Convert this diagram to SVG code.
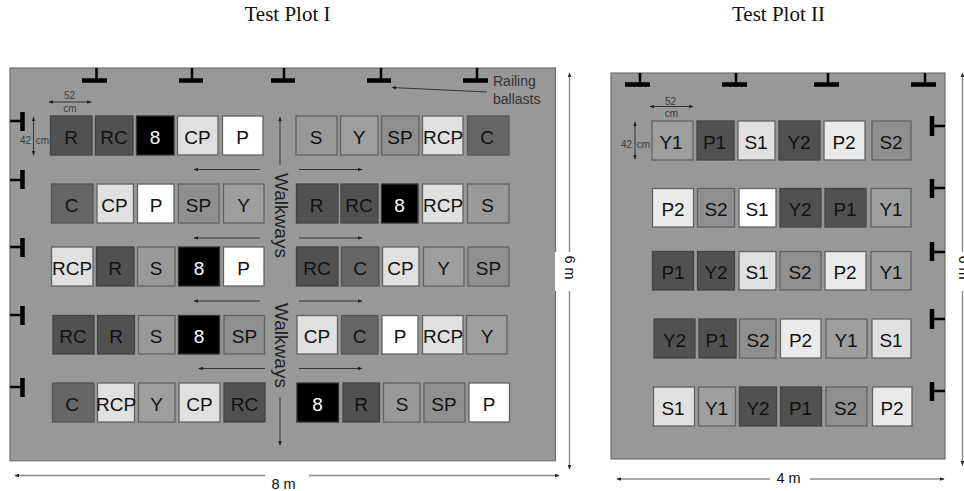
<svg xmlns="http://www.w3.org/2000/svg" width="964" height="491" viewBox="0 0 964 491">
<style>
text{font-family:"Liberation Sans",Arial,sans-serif;fill:#111;text-anchor:middle}
.title{font-family:"Liberation Serif","Times New Roman",serif;font-size:21px;fill:#111}
.panel{fill:#989898;stroke:#707070;stroke-width:1.2}
.c rect{stroke:#626262;stroke-width:1.3}
.c text{font-size:19px}
.k rect{fill:#000;stroke:#333}.k text{fill:#fff}
.d rect{fill:#515151;stroke:#444}
.m rect{fill:#666;stroke:#555}
.s rect{fill:#999}
.y rect{fill:#9e9e9e}
.p rect{fill:#8f8f8f}
.l rect{fill:#e0e0e0}
.e rect{fill:#eaeaea}
.w rect{fill:#fff}
.b{stroke:#000;fill:none}
.bar{stroke-width:4.5}
.stem{stroke-width:2.5}
.a{stroke:#333;stroke-width:1;fill:none;marker-end:url(#h)}
.g{stroke:#8c8c8c;stroke-width:1.4;fill:none}
.ga{marker-end:url(#h2)}
.dim{font-size:10px;fill:#3c3c3c}
.walk{font-size:18.5px;fill:#222}
.lab{font-size:14px;fill:#333;text-anchor:start}
.m8{font-size:14.5px;fill:#111}
</style>
<defs>
<marker id="h" viewBox="0 0 8 6" refX="7" refY="3" markerWidth="5" markerHeight="4" markerUnits="userSpaceOnUse" orient="auto-start-reverse"><path d="M0 0L8 3L0 6z" fill="#222"/></marker>
<marker id="h2" viewBox="0 0 8 6" refX="7" refY="3" markerWidth="5" markerHeight="4" markerUnits="userSpaceOnUse" orient="auto-start-reverse"><path d="M0 0L8 3L0 6z" fill="#222"/></marker>
</defs>
<rect width="964" height="491" fill="#fff"/>
<text class="title" x="287.500" y="21">Test Plot I</text>
<text class="title" x="778.500" y="21">Test Plot II</text>

<g id="plot1"><rect class="panel" x="10" y="68" width="545.500" height="392.700"/><rect x="555" y="252" width="3" height="39" fill="#fff"/></g>
<g id="plot2"><rect class="panel" x="611" y="73" width="334" height="386"/></g>

<g id="ballasts1">
<path class="b stem" d="M96.500 68V80M192 68V80M284 68V80M381 68V80M477 68V80"/>
<path class="b bar" d="M82 80.500H107M179 80.500H203M271 80.500H295M367 80.500H391M463 80.500H488"/>
<path class="b stem" d="M10 121H22M10 180H22M10 247H22M10 315H22M10 387H22"/>
<path class="b bar" d="M22.500 112V131M22.500 170V189M22.500 238V257M22.500 306V325M22.500 378V397"/>
</g>
<g id="ballasts2">
<path class="b stem" d="M640 73V84M736 73V84M828 73V84M925 73V84"/>
<path class="b bar" d="M625 84.500H650M722 84.500H747M814 84.500H839M911 84.500H936"/>
<path class="b stem" d="M932 126H945M932 188H945M932 252H945M932 319H945M932 391H945"/>
<path class="b bar" d="M932 116V136M932 179V198M932 242V261M932 309V329M932 382V401"/>
</g>

<g id="plot1-cells">
<g id="a1" class="c d"><rect x="50.500" y="116" width="41.500" height="39"/><text x="71" y="144">R</text></g>
<g id="a2" class="c d"><rect x="95.500" y="116" width="37.500" height="39"/><text x="114" y="144">RC</text></g>
<g id="a3" class="c k"><rect x="136.500" y="116" width="37.500" height="39"/><text x="155" y="144">8</text></g>
<g id="a4" class="c l"><rect x="177.500" y="116" width="40.500" height="39"/><text x="197.500" y="144">CP</text></g>
<g id="a5" class="c w"><rect x="222.500" y="116" width="40.500" height="39"/><text x="242.500" y="144">P</text></g>
<g id="a6" class="c s"><rect x="296" y="116" width="41" height="39"/><text x="316" y="144">S</text></g>
<g id="a7" class="c y"><rect x="340.500" y="116" width="37.500" height="39"/><text x="359" y="144">Y</text></g>
<g id="a8" class="c p"><rect x="381.500" y="116" width="37.500" height="39"/><text x="400" y="144">SP</text></g>
<g id="a9" class="c l"><rect x="422.500" y="116" width="40.500" height="39"/><text x="443" y="144">RCP</text></g>
<g id="a10" class="c m"><rect x="467.500" y="116" width="41.500" height="39"/><text x="487" y="144">C</text></g>

<g id="b1" class="c m"><rect x="51.500" y="184" width="41.500" height="39"/><text x="71.500" y="212">C</text></g>
<g id="b2" class="c l"><rect x="97" y="184" width="36.500" height="39"/><text x="114.500" y="212">CP</text></g>
<g id="b3" class="c w"><rect x="137.500" y="184" width="36.500" height="39"/><text x="156" y="212">P</text></g>
<g id="b4" class="c p"><rect x="178.500" y="184" width="40.500" height="39"/><text x="198.500" y="212">SP</text></g>
<g id="b5" class="c y"><rect x="223.500" y="184" width="40.500" height="39"/><text x="243.500" y="212">Y</text></g>
<g id="b6" class="c d"><rect x="296.500" y="184" width="41.500" height="39"/><text x="316.500" y="212">R</text></g>
<g id="b7" class="c d"><rect x="341" y="184" width="37" height="39"/><text x="359" y="212">RC</text></g>
<g id="b8" class="c k"><rect x="381.500" y="184" width="36.500" height="39"/><text x="399.500" y="212">8</text></g>
<g id="b9" class="c l"><rect x="422.500" y="184" width="40.500" height="39"/><text x="443" y="212">RCP</text></g>
<g id="b10" class="c s"><rect x="467.500" y="184" width="41.500" height="39"/><text x="487.500" y="212">S</text></g>

<g id="c1" class="c l"><rect x="51.500" y="247" width="41.500" height="39"/><text x="72" y="275">RCP</text></g>
<g id="c2" class="c d"><rect x="96.500" y="247" width="37.500" height="39"/><text x="115" y="275">R</text></g>
<g id="c3" class="c s"><rect x="137.500" y="247" width="37.500" height="39"/><text x="156" y="275">S</text></g>
<g id="c4" class="c k"><rect x="178.500" y="247" width="41" height="39"/><text x="199" y="275">8</text></g>
<g id="c5" class="c w"><rect x="223.500" y="247" width="40.500" height="39"/><text x="243.500" y="275">P</text></g>
<g id="c6" class="c d"><rect x="296.500" y="247" width="41.500" height="39"/><text x="317" y="275">RC</text></g>
<g id="c7" class="c m"><rect x="341.500" y="247" width="37.500" height="39"/><text x="360" y="275">C</text></g>
<g id="c8" class="c l"><rect x="382.500" y="247" width="36.500" height="39"/><text x="400.500" y="275">CP</text></g>
<g id="c9" class="c y"><rect x="423.500" y="247" width="40.500" height="39"/><text x="443.500" y="275">Y</text></g>
<g id="c10" class="c p"><rect x="468" y="247" width="41" height="39"/><text x="488.500" y="275">SP</text></g>

<g id="d1" class="c d"><rect x="53" y="315.500" width="41" height="38.500"/><text x="73" y="343">RC</text></g>
<g id="d2" class="c d"><rect x="97.500" y="315.500" width="37" height="38.500"/><text x="116" y="343">R</text></g>
<g id="d3" class="c s"><rect x="138.500" y="315.500" width="36.500" height="38.500"/><text x="156" y="343">S</text></g>
<g id="d4" class="c k"><rect x="178.500" y="315.500" width="41" height="38.500"/><text x="199" y="343">8</text></g>
<g id="d5" class="c p"><rect x="224" y="315.500" width="40.500" height="38.500"/><text x="244.500" y="343">SP</text></g>
<g id="d6" class="c l"><rect x="297" y="315.500" width="40.500" height="38.500"/><text x="317" y="343">CP</text></g>
<g id="d7" class="c m"><rect x="341.500" y="315.500" width="36.500" height="38.500"/><text x="359.500" y="343">C</text></g>
<g id="d8" class="c w"><rect x="382" y="315.500" width="36" height="38.500"/><text x="400" y="343">P</text></g>
<g id="d9" class="c l"><rect x="422.500" y="315.500" width="40.500" height="38.500"/><text x="443" y="343">RCP</text></g>
<g id="d10" class="c y"><rect x="466.500" y="315.500" width="40.500" height="38.500"/><text x="487" y="343">Y</text></g>

<g id="e1" class="c m"><rect x="52.500" y="383" width="41.500" height="39"/><text x="72" y="411">C</text></g>
<g id="e2" class="c l"><rect x="97.500" y="383" width="37" height="39"/><text x="116" y="411">RCP</text></g>
<g id="e3" class="c y"><rect x="138.500" y="383" width="36.500" height="39"/><text x="156.500" y="411">Y</text></g>
<g id="e4" class="c l"><rect x="179" y="383" width="41" height="39"/><text x="199.500" y="411">CP</text></g>
<g id="e5" class="c d"><rect x="224" y="383" width="41" height="39"/><text x="244.500" y="411">RC</text></g>
<g id="e6" class="c k"><rect x="297" y="383" width="41.500" height="39"/><text x="317.500" y="411">8</text></g>
<g id="e7" class="c d"><rect x="343" y="383" width="36.500" height="39"/><text x="361" y="411">R</text></g>
<g id="e8" class="c s"><rect x="383.500" y="383" width="36.500" height="39"/><text x="402" y="411">S</text></g>
<g id="e9" class="c p"><rect x="424" y="383" width="41" height="39"/><text x="444" y="411">SP</text></g>
<g id="e10" class="c w"><rect x="469" y="383" width="40.500" height="39"/><text x="489" y="411">P</text></g>
</g>

<g id="plot2-cells">
<g id="f1" class="c y"><rect x="652" y="121" width="41" height="39"/><text x="671" y="149">Y1</text></g>
<g id="f2" class="c d"><rect x="697" y="121" width="37" height="39"/><text x="714.500" y="149">P1</text></g>
<g id="f3" class="c l"><rect x="738" y="121" width="37" height="39"/><text x="756" y="149">S1</text></g>
<g id="f4" class="c d"><rect x="779" y="121" width="41" height="39"/><text x="799" y="149">Y2</text></g>
<g id="f5" class="c e"><rect x="824" y="121" width="41" height="39"/><text x="844" y="149">P2</text></g>
<g id="f6" class="c p"><rect x="872" y="121" width="39" height="39"/><text x="891" y="149">S2</text></g>

<g id="g1" class="c e"><rect x="652.500" y="188.500" width="41" height="38.500"/><text x="673" y="216">P2</text></g>
<g id="g2" class="c p"><rect x="697.500" y="188.500" width="37" height="38.500"/><text x="716" y="216">S2</text></g>
<g id="g3" class="c w"><rect x="739" y="188.500" width="37" height="38.500"/><text x="757" y="216">S1</text></g>
<g id="g4" class="c d"><rect x="780" y="188.500" width="41" height="38.500"/><text x="800" y="216">Y2</text></g>
<g id="g5" class="c d"><rect x="825" y="188.500" width="41" height="38.500"/><text x="845" y="216">P1</text></g>
<g id="g6" class="c y"><rect x="871" y="188.500" width="40" height="38.500"/><text x="891" y="216">Y1</text></g>

<g id="h1" class="c d"><rect x="652.500" y="251.500" width="41" height="38.500"/><text x="673" y="279">P1</text></g>
<g id="h2g" class="c d"><rect x="697.500" y="251.500" width="37" height="38.500"/><text x="716" y="279">Y2</text></g>
<g id="h3" class="c l"><rect x="739" y="251.500" width="37" height="38.500"/><text x="757" y="279">S1</text></g>
<g id="h4" class="c p"><rect x="780" y="251.500" width="41" height="38.500"/><text x="800" y="279">S2</text></g>
<g id="h5" class="c e"><rect x="825" y="251.500" width="41" height="38.500"/><text x="845" y="279">P2</text></g>
<g id="h6" class="c y"><rect x="871" y="251.500" width="40" height="38.500"/><text x="891" y="279">Y1</text></g>

<g id="i1" class="c d"><rect x="654" y="319" width="41" height="39"/><text x="674.500" y="347">Y2</text></g>
<g id="i2" class="c d"><rect x="699" y="319" width="37" height="39"/><text x="717" y="347">P1</text></g>
<g id="i3" class="c p"><rect x="739.500" y="319" width="36.500" height="39"/><text x="758" y="347">S2</text></g>
<g id="i4" class="c e"><rect x="780.500" y="319" width="40.500" height="39"/><text x="800.500" y="347">P2</text></g>
<g id="i5" class="c y"><rect x="826" y="319" width="41" height="39"/><text x="846" y="347">Y1</text></g>
<g id="i6" class="c l"><rect x="872" y="319" width="39" height="39"/><text x="891" y="347">S1</text></g>

<g id="j1" class="c l"><rect x="653.500" y="387" width="41" height="39"/><text x="673" y="415">S1</text></g>
<g id="j2" class="c y"><rect x="698.500" y="387" width="37" height="39"/><text x="716.500" y="415">Y1</text></g>
<g id="j3" class="c d"><rect x="739.500" y="387" width="37" height="39"/><text x="758" y="415">Y2</text></g>
<g id="j4" class="c d"><rect x="780.500" y="387" width="41" height="39"/><text x="800.500" y="415">P1</text></g>
<g id="j5" class="c p"><rect x="826" y="387" width="41" height="39"/><text x="845.500" y="415">S2</text></g>
<g id="j6" class="c e"><rect x="872.500" y="387" width="39.500" height="39"/><text x="892" y="415">P2</text></g>
</g>

<g id="connectors">
<path class="a" d="M280 165V117"/>
<path class="a" d="M280 398V445"/>
<path class="a" d="M260 169.500H194"/>
<path class="a" d="M260 238H194"/>
<path class="a" d="M260 301H194"/>
<path class="a" d="M265 368.500H199"/>
<path class="a" d="M299 169.500H362"/>
<path class="a" d="M299 238H362"/>
<path class="a" d="M299 301H362"/>
<path class="a" d="M299 368.500H362"/>
<path class="a" d="M487 92L392 87.500"/>
<path class="a" style="marker-start:url(#h)" d="M49 102H91"/>
<path class="a" style="marker-start:url(#h)" d="M33.500 117V155"/>
<path class="a" style="marker-start:url(#h)" d="M650 106.500H693"/>
<path class="a" style="marker-start:url(#h)" d="M635 122V159"/>
<path class="g ga" d="M569.500 252V73"/>
<path class="g ga" d="M569.500 291V469"/>
<path class="g ga" d="M962.500 252V73"/>
<path class="g ga" d="M962.500 291V465"/>
<path class="g ga" d="M265 475.500H15"/>
<path class="g ga" d="M309 475.500H559"/>
<path class="g ga" d="M770 479H617"/>
<path class="g ga" d="M810 479H944"/>
</g>

<g id="labels">
<text class="walk" transform="translate(275 215.500) rotate(90)" textLength="85" lengthAdjust="spacingAndGlyphs">Walkways</text>
<text class="walk" transform="translate(275 345.500) rotate(90)" textLength="85" lengthAdjust="spacingAndGlyphs">Walkways</text>
<text class="lab" x="493" y="86">Railing</text>
<text class="lab" x="493" y="104">ballasts</text>
<text class="dim" x="69.500" y="99">52</text>
<text class="dim" x="70" y="112">cm</text>
<text class="dim" x="25.500" y="144">42</text>
<text class="dim" x="42.500" y="144">cm</text>
<text class="dim" x="670.500" y="105">52</text>
<text class="dim" x="671.500" y="117">cm</text>
<text class="dim" x="626.500" y="148">42</text>
<text class="dim" x="643.500" y="148">cm</text>
<text class="m8" x="283.500" y="488.500">8 m</text>
<text class="m8" x="788.500" y="483">4 m</text>
<text class="m8" transform="translate(564.500 267.500) rotate(90)">6 m</text>
<text class="m8" transform="translate(959 267.500) rotate(90)">6 m</text>
</g>
</svg>
